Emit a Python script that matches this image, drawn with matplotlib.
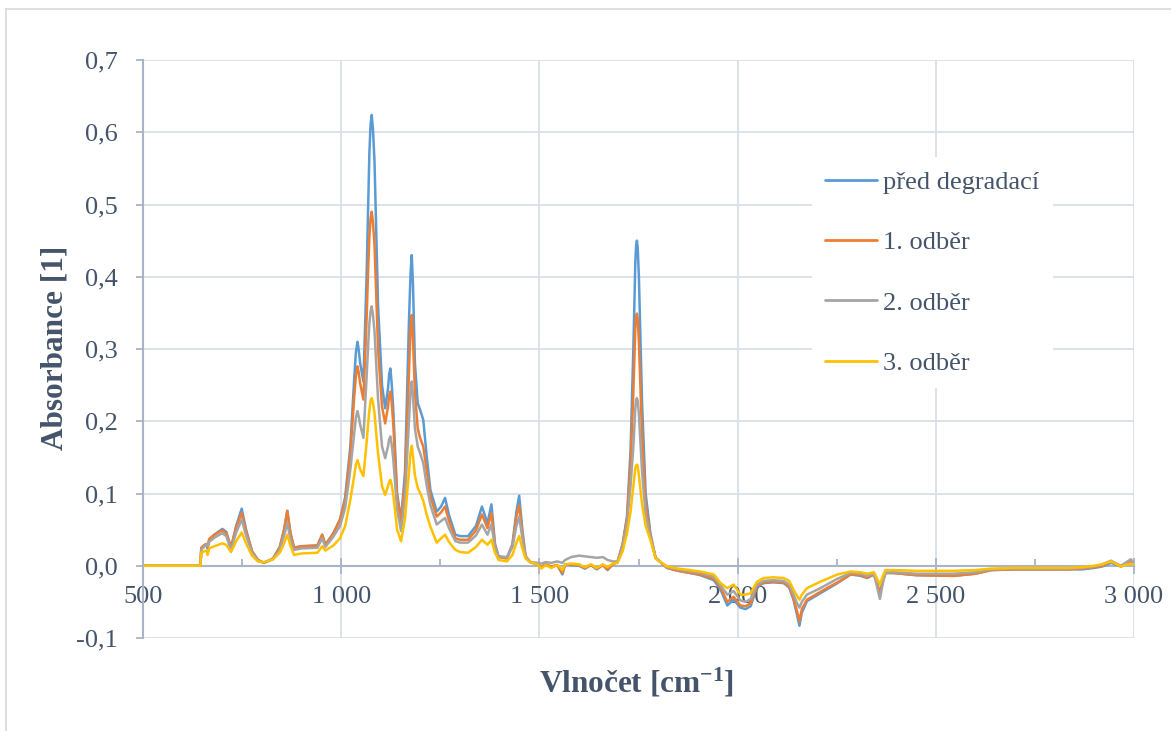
import matplotlib
matplotlib.use("Agg")
import matplotlib.pyplot as plt
from matplotlib.ticker import MultipleLocator, FuncFormatter
from matplotlib.lines import Line2D

# ---------------- data ----------------
series_names = ["před degradací", "1. odběr", "2. odběr", "3. odběr"]
series_colors = ["#5B9BD5", "#ED7D31", "#A5A5A5", "#FFC000"]

wavenumber = [
    500, 645, 647, 655, 660, 663, 667, 680, 700, 710, 722, 735, 749, 760, 775, 790, 805, 828, 845, 856,
    864, 872, 881, 900, 940, 952, 960, 980,
    997, 1010, 1023, 1033, 1037, 1041, 1044, 1048, 1056, 1064, 1068, 1071, 1074, 1077, 1080, 1084, 1088,
    1093, 1103, 1111, 1118, 1121, 1124, 1127, 1131, 1141, 1151, 1161, 1171, 1175, 1178, 1181, 1186,
    1193, 1199, 1207,
    1216, 1225, 1241, 1252, 1262, 1272, 1288, 1300, 1320, 1340, 1355, 1369, 1379, 1388, 1397, 1418,
    1432, 1442, 1449, 1457, 1465, 1477, 1495, 1505, 1515, 1530, 1545, 1558, 1565, 1580, 1600, 1615,
    1630, 1645, 1660, 1672, 1685, 1697, 1710, 1721, 1730,
    1737, 1742, 1744, 1746, 1748, 1751,
    1759, 1768, 1780,
    1793, 1822, 1850, 1880, 1906, 1940, 1957, 1974, 1990, 2007, 2020, 2033, 2049, 2066, 2090, 2116,
    2130, 2141, 2150, 2156, 2162, 2175, 2209, 2252, 2285, 2310, 2327, 2344, 2352, 2359, 2366, 2373,
    2393, 2450, 2545, 2600, 2640, 2700, 2830, 2870, 2900, 2920, 2942, 2967, 2992, 3000,
]

pred_degradaci = [
    0, 0, 0.024, 0.028, 0.030, 0.024, 0.036, 0.043, 0.051, 0.047, 0.025, 0.055, 0.079, 0.050, 0.020, 0.008, 0.004, 0.010, 0.026, 0.050,
    0.076, 0.045, 0.025, 0.027, 0.028, 0.043, 0.029, 0.045,
    0.064, 0.095, 0.165, 0.260, 0.295, 0.310, 0.300, 0.280, 0.255, 0.400, 0.500, 0.570, 0.610, 0.624, 0.605, 0.560, 0.470,
    0.360, 0.250, 0.218, 0.245, 0.265, 0.273, 0.255, 0.220, 0.100, 0.064, 0.130, 0.340, 0.405, 0.430, 0.390, 0.280,
    0.225, 0.216, 0.202,
    0.150, 0.105, 0.075, 0.082, 0.094, 0.070, 0.043, 0.041, 0.041, 0.055, 0.082, 0.059, 0.085, 0.030, 0.013, 0.011,
    0.030, 0.075, 0.097, 0.050, 0.013, 0.005, 0.002, -0.003, 0.002, -0.002, 0.001, -0.012, 0.002, 0.001, 0.000, -0.004,
    0.001, -0.005, 0.001, -0.006, 0.002, 0.005, 0.030, 0.068, 0.160,
    0.300, 0.420, 0.443, 0.450, 0.440, 0.400,
    0.225, 0.100, 0.045,
    0.011, -0.003, -0.007, -0.010, -0.013, -0.020, -0.033, -0.055, -0.047, -0.058, -0.060, -0.056, -0.029, -0.024, -0.023, -0.024,
    -0.030, -0.047, -0.068, -0.083, -0.065, -0.049, -0.038, -0.024, -0.012, -0.014, -0.017, -0.012, -0.025, -0.040, -0.022, -0.010,
    -0.010, -0.013, -0.014, -0.011, -0.006, -0.005, -0.005, -0.005, -0.003, -0.001, 0.004, -0.001, 0.006, 0.002,
]

odber_1 = [
    0, 0, 0.025, 0.029, 0.030, 0.026, 0.037, 0.043, 0.049, 0.045, 0.025, 0.053, 0.073, 0.048, 0.020, 0.008, 0.004, 0.010, 0.025, 0.050,
    0.076, 0.045, 0.025, 0.027, 0.028, 0.043, 0.029, 0.044,
    0.064, 0.090, 0.155, 0.235, 0.262, 0.276, 0.268, 0.252, 0.230, 0.340, 0.410, 0.455, 0.480, 0.490, 0.476, 0.445, 0.380,
    0.300, 0.220, 0.197, 0.220, 0.235, 0.241, 0.228, 0.200, 0.095, 0.062, 0.115, 0.270, 0.330, 0.347, 0.315, 0.240,
    0.190, 0.177, 0.165,
    0.130, 0.096, 0.068, 0.074, 0.082, 0.062, 0.038, 0.036, 0.036, 0.049, 0.071, 0.052, 0.073, 0.028, 0.012, 0.010,
    0.028, 0.068, 0.084, 0.045, 0.013, 0.005, 0.002, -0.002, 0.002, -0.001, 0.001, -0.010, 0.002, 0.002, 0.001, -0.003,
    0.001, -0.004, 0.001, -0.005, 0.002, 0.005, 0.030, 0.065, 0.140,
    0.240, 0.330, 0.344, 0.349, 0.342, 0.310,
    0.180, 0.085, 0.042,
    0.011, -0.003, -0.007, -0.010, -0.012, -0.018, -0.030, -0.050, -0.043, -0.055, -0.056, -0.052, -0.028, -0.023, -0.022, -0.023,
    -0.029, -0.045, -0.063, -0.077, -0.060, -0.047, -0.036, -0.023, -0.012, -0.013, -0.016, -0.012, -0.024, -0.038, -0.021, -0.010,
    -0.010, -0.013, -0.014, -0.011, -0.006, -0.005, -0.005, -0.004, -0.002, 0.000, 0.006, -0.001, 0.007, 0.003,
]

odber_2 = [
    0, 0, 0.022, 0.027, 0.029, 0.027, 0.033, 0.039, 0.045, 0.041, 0.022, 0.046, 0.064, 0.042, 0.018, 0.007, 0.004, 0.009, 0.022, 0.042,
    0.059, 0.037, 0.022, 0.024, 0.025, 0.038, 0.026, 0.040,
    0.055, 0.080, 0.133, 0.185, 0.205, 0.214, 0.207, 0.195, 0.177, 0.260, 0.305, 0.335, 0.352, 0.359, 0.348, 0.325, 0.282,
    0.230, 0.165, 0.149, 0.165, 0.175, 0.179, 0.169, 0.150, 0.078, 0.048, 0.095, 0.200, 0.243, 0.255, 0.235, 0.190,
    0.165, 0.156, 0.142,
    0.110, 0.084, 0.057, 0.062, 0.066, 0.052, 0.034, 0.032, 0.032, 0.042, 0.057, 0.043, 0.057, 0.025, 0.013, 0.012,
    0.026, 0.055, 0.068, 0.038, 0.012, 0.005, 0.004, 0.003, 0.005, 0.004, 0.006, 0.004, 0.008, 0.012, 0.014, 0.013,
    0.012, 0.011, 0.012, 0.008, 0.006, 0.006, 0.027, 0.058, 0.110,
    0.165, 0.218, 0.229, 0.232, 0.228, 0.210,
    0.130, 0.070, 0.040,
    0.011, -0.002, -0.005, -0.008, -0.010, -0.015, -0.027, -0.040, -0.035, -0.048, -0.050, -0.046, -0.026, -0.021, -0.020, -0.021,
    -0.026, -0.040, -0.052, -0.058, -0.050, -0.040, -0.031, -0.018, -0.010, -0.011, -0.014, -0.011, -0.030, -0.046, -0.025, -0.010,
    -0.009, -0.011, -0.011, -0.009, -0.005, -0.004, -0.004, -0.003, -0.001, 0.002, 0.007, 0.000, 0.009, 0.004,
]

odber_3 = [
    0, 0, 0.018, 0.020, 0.021, 0.015, 0.024, 0.027, 0.031, 0.029, 0.019, 0.034, 0.046, 0.031, 0.014, 0.006, 0.005, 0.009, 0.018, 0.031,
    0.043, 0.028, 0.015, 0.017, 0.018, 0.027, 0.021, 0.028,
    0.038, 0.055, 0.091, 0.125, 0.140, 0.146, 0.141, 0.133, 0.124, 0.170, 0.197, 0.215, 0.228, 0.232, 0.226, 0.212, 0.185,
    0.155, 0.110, 0.098, 0.110, 0.116, 0.119, 0.113, 0.100, 0.050, 0.034, 0.065, 0.130, 0.158, 0.166, 0.152, 0.125,
    0.108, 0.101, 0.090,
    0.070, 0.054, 0.032, 0.038, 0.043, 0.033, 0.022, 0.019, 0.018, 0.026, 0.036, 0.029, 0.036, 0.018, 0.008, 0.006,
    0.015, 0.032, 0.041, 0.024, 0.010, 0.005, 0.002, -0.004, 0.001, -0.003, 0.001, -0.006, 0.002, 0.003, 0.002, -0.002,
    0.002, -0.003, 0.002, -0.002, 0.003, 0.004, 0.020, 0.045, 0.075,
    0.110, 0.135, 0.139, 0.140, 0.138, 0.125,
    0.085, 0.055, 0.036,
    0.010, -0.001, -0.004, -0.006, -0.008, -0.012, -0.024, -0.031, -0.026, -0.040, -0.040, -0.038, -0.022, -0.017, -0.016, -0.017,
    -0.021, -0.033, -0.042, -0.047, -0.040, -0.031, -0.022, -0.012, -0.008, -0.009, -0.011, -0.009, -0.018, -0.026, -0.015, -0.006,
    -0.006, -0.007, -0.007, -0.006, -0.004, -0.003, -0.003, -0.002, 0.000, 0.002, 0.006, -0.001, 0.003, 0.001,
]

series_values = [pred_degradaci, odber_1, odber_2, odber_3]
for v in series_values:
    assert len(v) == len(wavenumber), (len(v), len(wavenumber))

y_ticks = [-0.1, 0.0, 0.1, 0.2, 0.3, 0.4, 0.5, 0.6, 0.7]

# ---------------- styling ----------------
TEXT = "#44546A"
GRID = "#D9DEE8"
AXIS = "#A9B4C8"
plt.rcParams["font.family"] = ["Liberation Serif", "DejaVu Serif"]
plt.rcParams["mathtext.fontset"] = "custom"
plt.rcParams["mathtext.rm"] = "Liberation Serif:bold"
plt.rcParams["mathtext.default"] = "rm"

W, H = 1171, 731
fig = plt.figure(figsize=(W / 100, H / 100), dpi=100)
ax = fig.add_axes([143 / W, 1 - 638 / H, (1134 - 143) / W, (638 - 60) / H])

for name, vals, col in zip(series_names, series_values, series_colors):
    ax.plot(wavenumber, vals, color=col, lw=1.8, label=name,
            solid_joinstyle="round", solid_capstyle="round")

ax.set_xlim(500, 3000)
ax.set_ylim(-0.1, 0.7)
ax.xaxis.set_major_locator(MultipleLocator(500))
ax.xaxis.set_minor_locator(MultipleLocator(250))
ax.set_yticks(y_ticks)
ax.xaxis.set_major_formatter(FuncFormatter(lambda v, p: f"{int(v):,}".replace(",", " ")))
ax.yaxis.set_major_formatter(FuncFormatter(lambda v, p: f"{v:.1f}".replace(".", ",").replace("-0,0", "0,0")))

ax.grid(True, which="major", color=GRID, lw=1.3)
ax.set_axisbelow(True)
for s in ["top", "right"]:
    ax.spines[s].set_visible(False)
ax.spines["bottom"].set_position(("data", 0))
ax.spines["bottom"].set_color(AXIS)
ax.spines["left"].set_color(AXIS)
ax.spines["bottom"].set_linewidth(1.5)
ax.spines["left"].set_linewidth(1.5)
ax.spines["bottom"].set_zorder(1.5)

ax.tick_params(axis="x", which="major", direction="inout", length=11, width=1.3, color=AXIS,
               labelsize=19, labelcolor=TEXT, pad=9)
ax.tick_params(axis="x", which="minor", direction="in", length=5, width=1.3, color=AXIS)
ax.tick_params(axis="y", which="major", direction="out", length=5, width=1.3, color=AXIS,
               labelsize=19, labelcolor=TEXT, pad=13)

ax.set_ylabel("Absorbance [1]", fontsize=22.5, fontweight="bold", color=TEXT, va="center", ha="center")
ax.yaxis.set_label_coords(-(143 - 55) / (1134 - 143), (638 - 348) / (638 - 60))
ax.set_xlabel("Vlnočet [cm$^{-1}$]", fontsize=22.5, fontweight="bold", color=TEXT, va="center", ha="center")
ax.xaxis.set_label_coords((637 - 143) / (1134 - 143), -(683 - 638) / (638 - 60))

leg = ax.legend(loc="upper left", bbox_to_anchor=((799 - 143) / (1134 - 143), 1 - (144 - 60) / (638 - 60)),
                fontsize=19, frameon=True, facecolor="white", edgecolor="none", framealpha=1,
                handlelength=1.97, handletextpad=0.23, labelspacing=1.40, borderpad=0.5)
for t in leg.get_texts():
    t.set_color(TEXT)
for l in leg.get_lines():
    l.set_linewidth(2)

# outer chart frame (top and left edges visible)
fig.add_artist(Line2D([6 / W, 6 / W], [0, 1 - 9 / H], transform=fig.transFigure, color="#D9D9D9", lw=1.2))
fig.add_artist(Line2D([6 / W, 1], [1 - 9 / H, 1 - 9 / H], transform=fig.transFigure, color="#D9D9D9", lw=1.2))

fig.savefig("out.png", dpi=100)
